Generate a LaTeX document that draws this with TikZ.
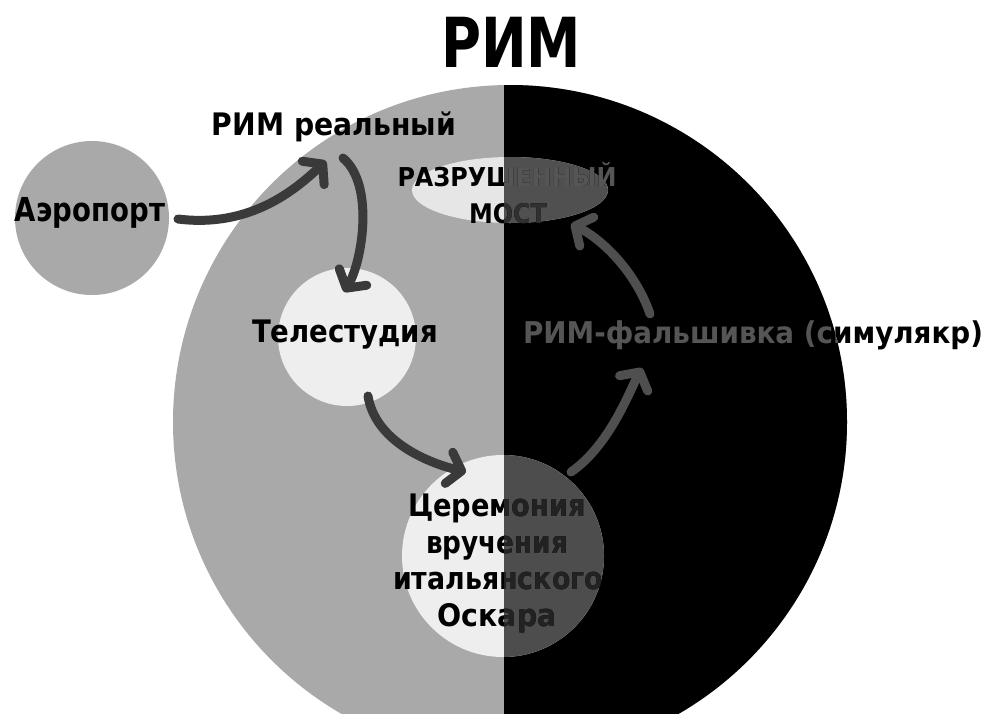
\documentclass[tikz,border=0pt]{standalone}
\usepackage{fontspec}
\setmainfont{DejaVu Sans}
\usepackage{graphicx}
\usetikzlibrary{arrows.meta}

\definecolor{bggray}{HTML}{A9A9A9}
\definecolor{lightc}{HTML}{EEEEEE}
\definecolor{ellc}{HTML}{E6E6E6}
\definecolor{arrdark}{HTML}{3A3A3A}
\definecolor{arrdim}{HTML}{4F4F4F}
\definecolor{dimfill}{HTML}{4D4D4D}
\definecolor{dimell}{HTML}{505050}
\definecolor{dimtext}{HTML}{555555}
\definecolor{darktext}{HTML}{222222}

\newcommand\tw[2]{\resizebox{#1pt}{\height}{#2}}
\newcommand\fs[1]{\fontsize{#1}{#1}\selectfont\bfseries}

\newcommand\tTitle{\tw{140}{\fs{69}РИМ}}
\newcommand\tReal{\tw{244}{\fs{31}РИМ реальный}}
\newcommand\tAir{\tw{150}{\fs{33}Аэропорт}}
\newcommand\tTele{\tw{186}{\fs{31}Телестудия}}
\newcommand\tRazr{\tw{219}{\fs{26}РАЗРУШЕННЫЙ}}
\newcommand\tMost{\tw{78}{\fs{27}МОСТ}}
\newcommand\tCa{\tw{178}{\fs{31}Церемония}}
\newcommand\tCb{\tw{142}{\fs{31}вручения}}
\newcommand\tCc{\tw{210}{\fs{31}итальянского}}
\newcommand\tCd{\tw{119}{\fs{31}Оскара}}
\newcommand\tFake{\tw{460}{\fs{30}РИМ-фальшивка (симулякр)}}

\begin{document}
\begin{tikzpicture}[x=1pt,y=-1pt,
  lbl/.style={inner sep=0pt, anchor=base},
  arr/.style={line width=9pt, line cap=round, line join=round,
    -{Straight Barb[length=13pt,width=32pt,round]}}]
\useasboundingbox (0,0) rectangle (987,713);
\fill[white] (0,0) rectangle (987,713);

% big circle: gray left half, black right half
\fill[bggray] (510,422) circle[radius=337pt];
\begin{scope}
  \clip (504,0) rectangle (987,713);
  \fill[black] (510,422) circle[radius=337pt];
\end{scope}

% small shapes
\fill[bggray] (92,218) circle[radius=77pt];
\fill[lightc] (347,337) circle[radius=69pt];
\fill[lightc] (503,556) circle[radius=101pt];
\fill[ellc] (510,190) ellipse[x radius=98pt, y radius=33pt];
\begin{scope}
  \clip (504,0) rectangle (987,713);
  \clip (510,422) circle[radius=337pt];
  \fill[dimfill] (503,556) circle[radius=101pt];
  \fill[dimell] (510,190) ellipse[x radius=98pt, y radius=33pt];
\end{scope}

% texts
\node[lbl] (title) at (511,67) {\tTitle};
\node[lbl] (real) at (334,135) {\tReal};
\node[lbl] (air) at (90,221) {\tAir};
\node[lbl] (tele) at (345,342) {\tTele};
\node[lbl] (razr) at (507,186) {\tRazr};
\node[lbl] (most) at (508,223) {\tMost};
\node[lbl] (cera) at (497,516) {\tCa};
\node[lbl] (cerb) at (497,553) {\tCb};
\node[lbl] (cerc) at (498,589) {\tCc};
\node[lbl] (cerd) at (497,626) {\tCd};
\node[lbl] (fake) at (753,343) {\tFake};

% dimmed parts of texts in the right half
\begin{scope}
  \clip (504,0) rectangle (987,713);
  \clip (510,422) circle[radius=337pt];
  \node[lbl, text=dimtext] (razrR) at (507,186) {\tRazr};
  \node[lbl, text=darktext!70!dimell] (mostR) at (508,223) {\tMost};
  \node[lbl, text=darktext] (ceraR) at (497,516) {\tCa};
  \node[lbl, text=darktext] (cerbR) at (497,553) {\tCb};
  \node[lbl, text=darktext] (cercR) at (498,589) {\tCc};
  \node[lbl, text=darktext] (cerdR) at (497,626) {\tCd};
  \node[lbl, text=dimtext] (fakeR) at (753,343) {\tFake};
\end{scope}

% connectors
\coordinate (a1s) at (178,219);
\coordinate (a1e) at (326,161);
\coordinate (a2s) at (343,158);
\coordinate (a2e) at (344,292);
\coordinate (a3s) at (368,396);
\coordinate (a3e) at (466,472);
\coordinate (a4s) at (571,472);
\coordinate (a4e) at (642,368);
\coordinate (a5s) at (650,314);
\coordinate (a5e) at (571,224);

\draw[arr, arrdark] (a1s) .. controls (250,228) and (295,190) .. (a1e);
\draw[arr, arrdark] (a2s) .. controls (375,185) and (362,262) .. (a2e);
\draw[arr, arrdark] (a3s) .. controls (375,440) and (425,462) .. (a3e);
\draw[arr, arrdim] (a4s) .. controls (610,445) and (630,390) .. (a4e);
\draw[arr, arrdim] (a5s) .. controls (635,270) and (600,238) .. (a5e);
\end{tikzpicture}
\end{document}
